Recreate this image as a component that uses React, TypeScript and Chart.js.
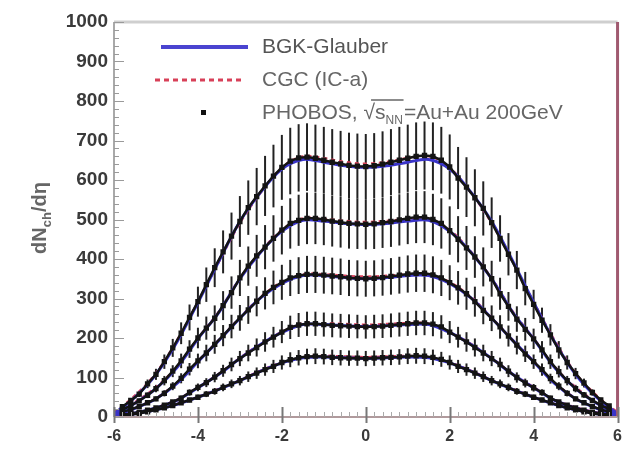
import React, { useEffect, useRef } from "react";
import { Chart, registerables } from "chart.js";
Chart.register(...registerables);

// pseudorapidity bins for PHOBOS data
const etaData = [
  -5.8, -5.6, -5.4, -5.2, -5.0, -4.8, -4.6, -4.4, -4.2, -4.0,
  -3.8, -3.6, -3.4, -3.2, -3.0, -2.8, -2.6, -2.4, -2.2, -2.0,
  -1.8, -1.6, -1.4, -1.2, -1.0, -0.8, -0.6, -0.4, -0.2, 0.0,
  0.2, 0.4, 0.6, 0.8, 1.0, 1.2, 1.4, 1.6, 1.8, 2.0,
  2.2, 2.4, 2.6, 2.8, 3.0, 3.2, 3.4, 3.6, 3.8, 4.0,
  4.2, 4.4, 4.6, 4.8, 5.0, 5.2, 5.4, 5.6, 5.8,
];

const phobos1 = [
  26, 42, 58, 84, 108, 140, 175, 212, 252, 292,
  335, 378, 418, 458, 495, 530, 558, 585, 610, 632,
  648, 656, 658, 655, 650, 645, 641, 637, 635, 634,
  636, 640, 645, 650, 655, 660, 662, 660, 650, 633,
  605, 582, 555, 528, 492, 452, 412, 372, 325, 285,
  245, 208, 170, 138, 110, 86, 62, 43, 28,
];
const phobos2 = [
  19, 29, 41, 55, 72, 92, 116, 142, 172, 200,
  225, 250, 282, 315, 352, 382, 408, 430, 452, 473,
  490, 498, 503, 503, 500, 496, 493, 490, 489, 488,
  489, 492, 495, 499, 503, 506, 506, 500, 490, 472,
  450, 428, 405, 380, 350, 312, 280, 248, 222, 198,
  170, 140, 115, 92, 72, 56, 42, 30, 20,
];
const phobos3 = [
  13, 19, 27, 36, 46, 60, 78, 98, 121, 142,
  162, 184, 206, 229, 251, 271, 293, 313, 328, 341,
  352, 358, 361, 361, 359, 357, 355, 352, 351, 350,
  351, 353, 356, 359, 362, 364, 364, 360, 352, 340,
  327, 312, 292, 270, 250, 228, 205, 182, 160, 140,
  120, 97, 78, 60, 46, 36, 27, 19, 13,
];
const phobos4 = [
  6, 9, 12, 17, 23, 30, 38, 48, 62, 75,
  87, 101, 117, 133, 148, 162, 176, 190, 202, 215,
  227, 233, 236, 236, 234, 232, 231, 230, 229, 228,
  229, 230, 232, 234, 236, 238, 238, 235, 228, 215,
  202, 190, 176, 162, 148, 133, 116, 100, 86, 74,
  62, 48, 38, 30, 23, 17, 12, 9, 6,
];
const phobos5 = [
  4, 6, 9, 13, 18, 23, 29, 36, 43, 50,
  58, 65, 75, 84, 92, 102, 111, 120, 128, 138,
  145, 150, 153, 154, 153, 151, 150, 149, 149, 148,
  149, 150, 151, 152, 154, 155, 154, 151, 146, 138,
  128, 120, 111, 102, 92, 84, 75, 65, 58, 50,
  43, 36, 29, 23, 18, 13, 9, 6, 4,
];
const phobosSeries = [phobos1, phobos2, phobos3, phobos4, phobos5];
// relative (systematic) error of each centrality class
const relErr = [0.13, 0.13, 0.13, 0.13, 0.13];

// model curves
const etaTheory = [
  -6, -5.5, -5, -4.5, -4, -3.5, -3, -2.5, -2, -1.5, -1, -0.5, 0,
  0.5, 1, 1.5, 2, 2.5, 3, 3.5, 4, 4.5, 5, 5.5, 6,
];
const bgk1 = [8, 50, 108, 190, 290, 395, 495, 570, 628, 652, 645, 636, 632, 636, 645, 652, 628, 570, 495, 395, 290, 190, 108, 50, 8];
const bgk2 = [6, 35, 72, 125, 198, 265, 350, 418, 470, 498, 496, 490, 487, 490, 496, 498, 470, 418, 350, 265, 198, 125, 72, 35, 6];
const bgk3 = [4, 22, 46, 85, 140, 194, 250, 302, 338, 358, 358, 353, 350, 353, 358, 358, 338, 302, 250, 194, 140, 85, 46, 22, 4];
const bgk4 = [3, 10, 23, 42, 74, 108, 148, 184, 214, 234, 234, 231, 229, 231, 234, 234, 214, 184, 148, 108, 74, 42, 23, 10, 3];
const bgk5 = [2, 8, 18, 32, 50, 70, 92, 116, 137, 150, 152, 150, 148, 150, 152, 150, 137, 116, 92, 70, 50, 32, 18, 8, 2];
const cgc1 = [12, 55, 112, 195, 292, 392, 490, 568, 632, 660, 656, 646, 642, 646, 656, 660, 632, 568, 490, 392, 292, 195, 112, 55, 12];
const cgc2 = [9, 38, 76, 128, 200, 268, 352, 420, 474, 503, 502, 497, 494, 497, 502, 503, 474, 420, 352, 268, 200, 128, 76, 38, 9];
const cgc3 = [6, 24, 48, 88, 142, 196, 252, 305, 342, 362, 362, 358, 356, 358, 362, 362, 342, 305, 252, 196, 142, 88, 48, 24, 6];
const cgc4 = [4, 12, 25, 44, 76, 110, 150, 186, 216, 237, 238, 236, 234, 236, 238, 237, 216, 186, 150, 110, 76, 44, 25, 12, 4];
const cgc5 = [3, 9, 19, 33, 51, 72, 94, 118, 139, 153, 155, 154, 152, 154, 155, 153, 139, 118, 94, 72, 51, 33, 19, 9, 3];
const bgkSeries = [bgk1, bgk2, bgk3, bgk4, bgk5];
const cgcSeries = [cgc1, cgc2, cgc3, cgc4, cgc5];

const xTicks = [-6, -4, -2, 0, 2, 4, 6];
const yTicks = [0, 100, 200, 300, 400, 500, 600, 700, 800, 900, 1000];

const legendLabels = ["BGK-Glauber", "CGC (IC-a)", "PHOBOS, "];

const FONT = "'Liberation Sans', Arial, sans-serif";

export default function App() {
  const ref = useRef<HTMLCanvasElement>(null);

  useEffect(() => {
    if (!ref.current) return;
    const datasets: any[] = [];
    phobosSeries.forEach((s, i) => {
      datasets.push({
        label: "PHOBOS" + i,
        data: etaData.map((x, k) => ({ x, y: s[k] })),
        borderColor: "#141414",
        backgroundColor: "#141414",
        borderWidth: 2.5,
        pointRadius: 2,
        pointStyle: "rect",
        showLine: true,
        order: 0,
        isData: true,
        err: relErr[i],
      });
    });
    bgkSeries.forEach((s, i) => {
      datasets.push({
        label: "BGK" + i,
        data: etaTheory.map((x, k) => ({ x, y: s[k] })),
        borderColor: "#3a34c8",
        borderWidth: 3,
        pointRadius: 0,
        tension: 0.35,
        order: 1,
      });
    });
    cgcSeries.forEach((s, i) => {
      datasets.push({
        label: "CGC" + i,
        data: etaTheory.map((x, k) => ({ x, y: s[k] })),
        borderColor: "#d84058",
        borderWidth: 2,
        borderDash: [4, 4],
        pointRadius: 0,
        tension: 0.35,
        order: 1,
      });
    });

    const framePlugin = {
      id: "frame",
      beforeDatasetsDraw(chart: any) {
        const ctx = chart.ctx;
        const xs = chart.scales.x;
        const ys = chart.scales.y;
        ctx.save();
        ctx.strokeStyle = "#222";
        ctx.lineWidth = 2;
        chart.data.datasets.forEach((ds: any) => {
          if (!ds.isData) return;
          ds.data.forEach((p: any) => {
            const px = xs.getPixelForValue(p.x);
            ctx.beginPath();
            ctx.moveTo(px, ys.getPixelForValue(p.y * (1 - ds.err)));
            ctx.lineTo(px, ys.getPixelForValue(p.y * (1 + ds.err)));
            ctx.stroke();
          });
        });
        ctx.restore();
      },
      afterDraw(chart: any) {
        const ctx = chart.ctx;
        const a = chart.chartArea;
        const xs = chart.scales.x;
        const ys = chart.scales.y;
        ctx.save();
        // frame
        ctx.strokeStyle = "#cfcfcf";
        ctx.lineWidth = 3;
        ctx.beginPath();
        ctx.moveTo(a.left, a.top);
        ctx.lineTo(a.right, a.top);
        ctx.stroke();
        ctx.strokeStyle = "#a9a9a9";
        ctx.lineWidth = 2;
        ctx.beginPath();
        ctx.moveTo(a.left, a.top);
        ctx.lineTo(a.left, a.bottom);
        ctx.stroke();
        ctx.strokeStyle = "#a05a70";
        ctx.lineWidth = 3;
        ctx.beginPath();
        ctx.moveTo(a.right, a.top);
        ctx.lineTo(a.right, a.bottom);
        ctx.stroke();
        ctx.strokeStyle = "#b09a9c";
        ctx.lineWidth = 2;
        ctx.beginPath();
        ctx.moveTo(a.left, a.bottom);
        ctx.lineTo(a.right, a.bottom);
        ctx.stroke();
        // y ticks
        ctx.strokeStyle = "#9a9a9a";
        ctx.lineWidth = 1;
        for (let v = 0; v <= 1000; v += 20) {
          const py = Math.round(ys.getPixelForValue(v)) + 0.5;
          const len = v % 100 === 0 ? 10 : 5;
          ctx.beginPath();
          ctx.moveTo(a.left, py);
          ctx.lineTo(a.left + len, py);
          ctx.stroke();
        }
        // x ticks
        for (let k = -30; k <= 30; k++) {
          const v = k / 5;
          const px = Math.round(xs.getPixelForValue(v)) + 0.5;
          const major = k % 10 === 0;
          ctx.strokeStyle = major ? "#777" : "#aaa";
          ctx.lineWidth = major ? 2 : 1;
          ctx.beginPath();
          ctx.moveTo(px, a.bottom - (major ? 10 : 5));
          ctx.lineTo(px, a.bottom + (major ? 6 : 0));
          ctx.stroke();
        }
        // legend
        ctx.lineCap = "butt";
        ctx.strokeStyle = "#4a44d0";
        ctx.lineWidth = 4;
        ctx.beginPath();
        ctx.moveTo(161, 47);
        ctx.lineTo(248, 47);
        ctx.stroke();
        ctx.strokeStyle = "#d84058";
        ctx.lineWidth = 3;
        ctx.setLineDash([5, 4]);
        ctx.beginPath();
        ctx.moveTo(155, 80);
        ctx.lineTo(242, 80);
        ctx.stroke();
        ctx.setLineDash([]);
        ctx.fillStyle = "#111";
        ctx.fillRect(201, 110, 5, 5);

        ctx.textBaseline = "middle";
        ctx.textAlign = "left";
        ctx.font = "21px " + FONT;
        ctx.fillStyle = "#555";
        ctx.fillText(legendLabels[0], 262, 47);
        ctx.fillStyle = "#666";
        ctx.fillText(legendLabels[1], 262, 80);
        ctx.fillText(legendLabels[2], 262, 113);
        let x = 262 + ctx.measureText(legendLabels[2]).width;
        ctx.fillText("\u221A", x, 113);
        x += ctx.measureText("\u221A").width;
        ctx.fillText("s", x, 113);
        const sw = ctx.measureText("s").width;
        ctx.strokeStyle = "#666";
        ctx.lineWidth = 1.5;
        ctx.beginPath();
        ctx.moveTo(x - 4, 100);
        ctx.lineTo(x + sw + 18, 100);
        ctx.stroke();
        x += sw;
        ctx.font = "12px " + FONT;
        ctx.fillText("NN", x, 121);
        x += ctx.measureText("NN").width + 1;
        ctx.font = "21px " + FONT;
        ctx.fillText("=Au+Au 200GeV", x, 113);

        // y axis title
        ctx.translate(40, 218);
        ctx.rotate(-Math.PI / 2);
        ctx.fillStyle = "#666";
        ctx.textAlign = "left";
        ctx.font = "bold 20px " + FONT;
        const t1 = "dN";
        const w1 = ctx.measureText(t1).width;
        ctx.font = "bold 13px " + FONT;
        const w2 = ctx.measureText("ch").width;
        ctx.font = "bold 20px " + FONT;
        const w3 = ctx.measureText("/d\u03B7").width;
        let tx = -(w1 + w2 + w3) / 2;
        ctx.fillText(t1, tx, 0);
        tx += w1;
        ctx.font = "bold 13px " + FONT;
        ctx.fillText("ch", tx, 7);
        tx += w2;
        ctx.font = "bold 20px " + FONT;
        ctx.fillText("/d\u03B7", tx, 0);
        ctx.restore();
      },
    };

    const chart = new Chart(ref.current, {
      type: "line",
      data: { datasets },
      options: {
        animation: false,
        responsive: false,
        maintainAspectRatio: false,
        layout: { padding: { top: 22, right: 4, left: 0, bottom: 0 } },
        plugins: { legend: { display: false }, tooltip: { enabled: false } },
        scales: {
          x: {
            type: "linear",
            min: -6,
            max: 6,
            afterBuildTicks: (s: any) => {
              s.ticks = xTicks.map((v) => ({ value: v }));
            },
            afterFit: (s: any) => {
              s.height = 34;
            },
            grid: { display: false, drawTicks: false },
            border: { display: false },
            ticks: {
              padding: 10,
              color: "#3a3a3a",
              font: { family: FONT, weight: "bold", size: 16 },
              maxRotation: 0,
              callback: (v: any) => String(v),
            },
          },
          y: {
            type: "linear",
            min: 0,
            max: 1000,
            afterBuildTicks: (s: any) => {
              s.ticks = yTicks.map((v) => ({ value: v }));
            },
            afterFit: (s: any) => {
              s.width = 114;
            },
            grid: { display: false, drawTicks: false },
            border: { display: false },
            ticks: {
              padding: 6,
              color: "#3a3a3a",
              font: { family: FONT, weight: "bold", size: 19 },
              callback: (v: any) => String(v),
            },
          },
        },
      },
      plugins: [framePlugin],
    } as any);
    return () => chart.destroy();
  }, []);

  return (
    <div style={{ position: "fixed", left: 0, top: 0, width: 632, height: 451, background: "#fff" }}>
      <canvas ref={ref} width={632} height={451} style={{ width: 632, height: 451 }} />
    </div>
  );
}
